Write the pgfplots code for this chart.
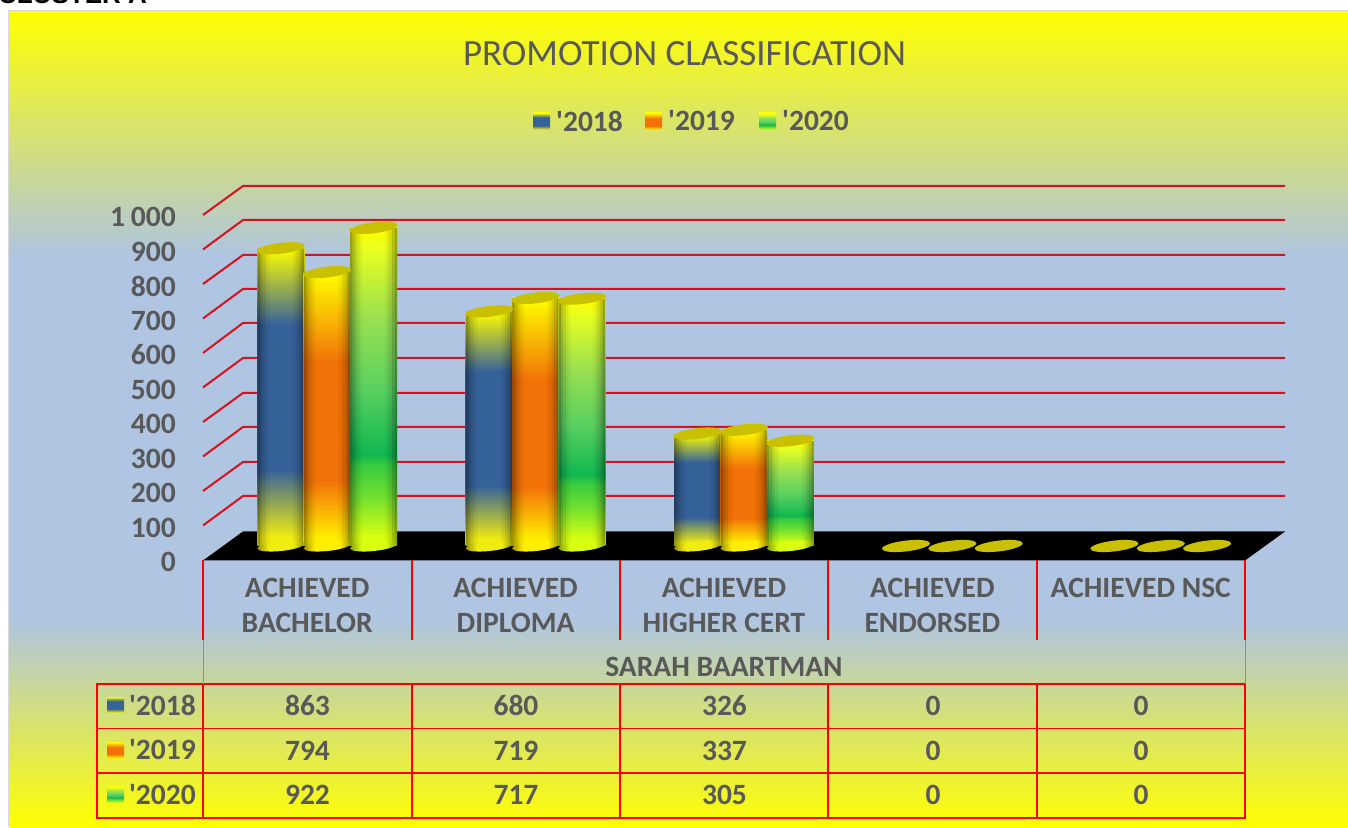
\documentclass[border=0pt]{standalone}
\usepackage{pgfplots}
\pgfplotsset{compat=1.18}
\usepackage{pgfplotstable}
\usepackage{fontspec}
\setmainfont{Carlito}
\newfontfamily\plainc{Carlito}
\newfontfamily\arialfont{Liberation Sans}

\definecolor{tc}{HTML}{595959}
\definecolor{bgy}{HTML}{FFFF00}
\definecolor{bgb}{HTML}{AFC5E1}
\definecolor{topc}{HTML}{C8C000}
\definecolor{cb}{HTML}{36629A}
\definecolor{co}{HTML}{F27208}
\definecolor{cg}{HTML}{10B850}
\definecolor{gridr}{HTML}{D5121E}
\definecolor{fadeln}{HTML}{C07878}
\definecolor{g1}{HTML}{D8FF10}
\definecolor{g2}{HTML}{70E030}
\definecolor{g3}{HTML}{38CC40}
\definecolor{g4}{HTML}{58D060}
\definecolor{g5}{HTML}{98E050}
\definecolor{g6}{HTML}{E8FF20}
\definecolor{b1}{HTML}{F0EC10}
\definecolor{o1}{HTML}{FFEE00}
\colorlet{b1d}{b1!62!black}
\colorlet{o1d}{o1!62!black}
\colorlet{g1d}{g1!62!black}

\pgfdeclareverticalshading{bgshade}{100bp}{color(0bp)=(bgy);color(25bp)=(bgy);color(37.7bp)=(bgb);color(60bp)=(bgb);color(75bp)=(bgy);color(100bp)=(bgy)}
\pgfdeclareverticalshading{blucyl}{100bp}{color(0bp)=(b1);color(25bp)=(b1);color(26.5bp)=(b1);color(37.8bp)=(cb);color(62.2bp)=(cb);color(75bp)=(yellow);color(100bp)=(yellow)}
\pgfdeclareverticalshading{orgcyl}{100bp}{color(0bp)=(o1);color(25bp)=(o1);color(26.5bp)=(o1);color(37bp)=(co);color(58.5bp)=(co);color(75bp)=(yellow);color(100bp)=(yellow)}
\pgfdeclareverticalshading{grncyl}{100bp}{color(0bp)=(g1);color(25bp)=(g1);color(26.5bp)=(g1);color(32.8bp)=(g2);color(37.7bp)=(g3);color(39.4bp)=(cg);color(49.4bp)=(g4);color(60.6bp)=(g5);color(71.7bp)=(g6);color(75bp)=(yellow);color(100bp)=(yellow)}
\pgfdeclarehorizontalshading{blubot}{100bp}{color(0bp)=(b1d);color(25bp)=(b1d);color(37bp)=(b1);color(63bp)=(b1);color(75bp)=(b1d);color(100bp)=(b1d)}
\pgfdeclarehorizontalshading{orgbot}{100bp}{color(0bp)=(o1d);color(25bp)=(o1d);color(37bp)=(o1);color(63bp)=(o1);color(75bp)=(o1d);color(100bp)=(o1d)}
\pgfdeclarehorizontalshading{grnbot}{100bp}{color(0bp)=(g1d);color(25bp)=(g1d);color(37bp)=(g1);color(63bp)=(g1);color(75bp)=(g1d);color(100bp)=(g1d)}

\pgfdeclareplotmark{cylcap}{%
  \pgfpathellipse{\pgfpointorigin}{\pgfqpoint{24pt}{2.8pt}}{\pgfqpoint{-0.4pt}{5.4pt}}%
  \pgfusepathqfill}
\newcommand{\cylbase}[1]{\pgfdeclareplotmark{#1}{%
  \pgfpathellipse{\pgfpointorigin}{\pgfqpoint{23.5pt}{2.4pt}}{\pgfqpoint{-0.4pt}{5pt}}%
  \pgfshadepath{#1}{0}\pgfusepath{discard}}}
\cylbase{blubot}\cylbase{orgbot}\cylbase{grnbot}

\pgfplotstableread{
x y18 y19 y20 base
0 863 794 922 0
1 680 719 717 0
2 326 337 305 0
3 0 0 0 -1
4 0 0 0 -1
}\promodata

\newcommand{\onebar}[4]{% column, x offset, shading, x window
  \addplot[ybar, bar width=47pt, bar shift=0pt, draw=none, shade, shading=#3, restrict x to domain=#4]
    table[x expr=\thisrow{x}+#2, y=#1] {\promodata};
}
\newcommand{\edgestrip}[4]{% column, x offset, pixel shift, opacity
  \addplot[ybar, bar width=2.5pt, bar shift=#3pt, draw=none, fill=black, fill opacity=#4, restrict y to domain=1:2000]
    table[x expr=\thisrow{x}+#2, y=#1] {\promodata};
}
\newcommand{\cylinder}[7]{% column, x offset, shading, bottom mark, three windows
  \addplot[only marks, mark=#4, restrict y to domain=-0.5:0.5]
    table[x expr=\thisrow{x}+#2, y=base] {\promodata};
  \onebar{#1}{#2}{#3}{#5}
  \onebar{#1}{#2}{#3}{#6}
  \onebar{#1}{#2}{#3}{#7}
  \edgestrip{#1}{#2}{-22.25}{0.36}\edgestrip{#1}{#2}{22.25}{0.36}
  \edgestrip{#1}{#2}{-19.75}{0.24}\edgestrip{#1}{#2}{19.75}{0.24}
  \edgestrip{#1}{#2}{-17.25}{0.15}\edgestrip{#1}{#2}{17.25}{0.15}
  \edgestrip{#1}{#2}{-14.75}{0.08}\edgestrip{#1}{#2}{14.75}{0.08}
  \edgestrip{#1}{#2}{-12.25}{0.03}\edgestrip{#1}{#2}{12.25}{0.03}
  \addplot[only marks, mark=cylcap, mark options={solid,fill=topc,draw=none}]
    table[x expr=\thisrow{x}+#2, y=#1] {\promodata};
}
\newcommand{\lab}{\fontsize{29.5}{35}\selectfont\bfseries}

\begin{document}
\begin{tikzpicture}
\path[use as bounding box] (0,0) rectangle (1348pt,827pt);
\begin{scope}[shift={(0pt,827pt)},x=1pt,y=-1pt]
  % background
  \shade[shading=bgshade] (9,11) rectangle (1348,827);
  \draw[color=black!15,line width=1.5pt] (8.5,827) -- (8.5,10.3) -- (1348,10.3);
  \node[anchor=base west,inner sep=0pt,font=\arialfont\bfseries\fontsize{26}{30}\selectfont,text=black] at (-2,4) {CLUSTER A};
  % floor and walls
  \fill[black] (203,560.5) -- (243,531.5) -- (1285,531.5) -- (1245,560.5) -- cycle;
  \foreach \b/\f in {186/215,220/249.5,255/284,289/318.5,323/353,358/387.5,393/422,427/456.5,462/491,496/525.5}{
    \draw[gridr,line width=2pt] (203,\f) -- (243,\b) -- (1285,\b);
  }
  \draw[gridr,line width=1.6pt] (243,531.5) -- (1285,531.5);
  % title
  \node[text=tc,font=\plainc\fontsize{37}{42}\selectfont] at (684.5,54) {PROMOTION CLASSIFICATION};
  % legend
  \foreach \xx/\sh/\tt in {533/blucyl/2018,645/orgcyl/2019,759/grncyl/2020}{
    \shade[shading=\sh] (\xx,113) rectangle +(17,17);
    \node[anchor=west,inner sep=0pt,text=tc,font=\plainc\lab] at (\xx+23,121) {'\tt};
  }
  % data table lines
  \draw[red,line width=2pt] (97,684) rectangle (1245,818);
  \foreach \yy in {728.5,773}{\draw[red,line width=1.8pt] (97,\yy) -- (1245,\yy);}
  \foreach \xx in {203,412,620,828,1037}{\draw[red,line width=2pt] (\xx,684) -- (\xx,818);}
  \foreach \xx in {412,620,828,1037}{\draw[red,line width=2pt] (\xx,560) -- (\xx,640);}
  \foreach \xx in {203,1245}{
    \draw[red,line width=2.8pt] (\xx,560) -- (\xx,640);
    \draw[fadeln,line width=1pt] (\xx,640) -- (\xx,684);
  }
  \draw[red,line width=2.8pt] (1245,684) -- (1245,818);
  \node[text=tc,font=\lab] at (724,667) {SARAH BAARTMAN};
  % table row labels
  \foreach \yy/\sh/\tt in {705/blucyl/2018,750/orgcyl/2019,794.5/grncyl/2020}{
    \shade[shading=\sh] (107,\yy-8) rectangle +(17,16);
    \node[anchor=east,inner sep=0pt,text=tc,font=\plainc\lab] at (196,\yy) {'\tt};
  }
  % table values
  \foreach \yy/\va/\vb/\vc in {705.5/863/680/326,750.5/794/719/337,795/922/717/305}{
    \node[text=tc,font=\lab] at (307.5,\yy) {\va};
    \node[text=tc,font=\lab] at (516,\yy) {\vb};
    \node[text=tc,font=\lab] at (724.5,\yy) {\vc};
    \node[text=tc,font=\lab] at (933,\yy) {0};
    \node[text=tc,font=\lab] at (1141,\yy) {0};
  }
\end{scope}

% front axis: value ticks and category labels
\begin{axis}[
  name=front, at={(203pt,267pt)}, anchor=south west, scale only axis,
  width=1042pt, height=345pt,
  xmin=-0.5, xmax=4.5, ymin=0, ymax=1000,
  xtick={0,1,2,3,4},
  xticklabels={{ACHIEVED\\BACHELOR},{ACHIEVED\\DIPLOMA},{ACHIEVED\\HIGHER CERT},{ACHIEVED\\ENDORSED},{ACHIEVED NSC}},
  ytick={0,100,...,1000},
  axis line style={draw=none}, major tick length=0pt,
  tick label style={text=tc},
  yticklabel style={font=\lab, /pgf/number format/assume math mode=true, /pgf/number format/1000 sep={\hspace{.2em}}, anchor=east, inner sep=0pt},
  xticklabel style={font=\lab, align=center, anchor=north, inner sep=0pt},
  xtick pos=lower, ytick pos=left,
  tick label style={/pgf/number format/assume math mode=true},
  y tick label style={xshift=-27pt, yshift=-2pt},
  x tick label style={yshift=-18pt},
]
\addplot[draw=none] coordinates {(0,0)};
\end{axis}

% bars
\begin{axis}[
  at={(223pt,281pt)}, anchor=south west, scale only axis,
  width=1042pt, height=345pt,
  xmin=-0.5, xmax=4.5, ymin=0, ymax=1000,
  hide axis, clip=false,
]
\cylinder{y18}{-0.2225}{blucyl}{blubot}{-0.3:-0.1}{0.7:0.9}{1.7:1.9}
\cylinder{y19}{0}{orgcyl}{orgbot}{-0.1:0.1}{0.9:1.1}{1.9:2.1}
\cylinder{y20}{0.2225}{grncyl}{grnbot}{0.1:0.3}{1.1:1.3}{2.1:2.3}
\end{axis}
\end{tikzpicture}
\end{document}
